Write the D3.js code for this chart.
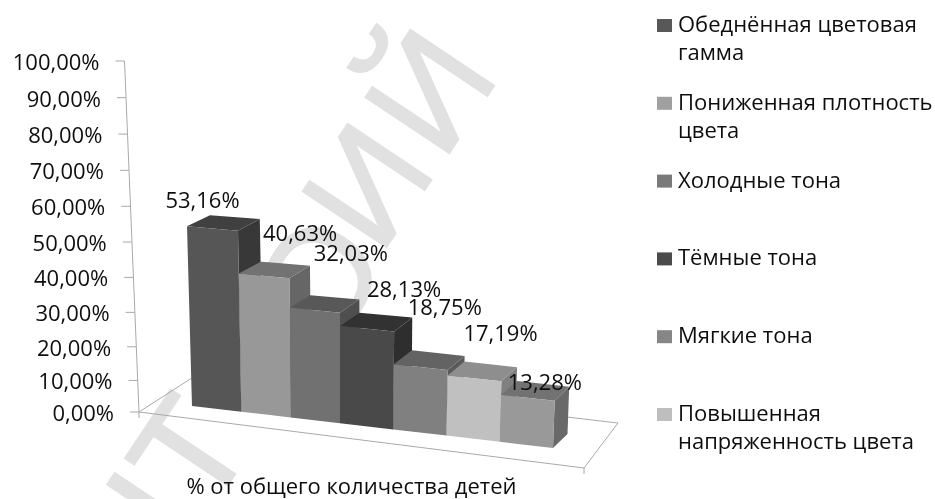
<!DOCTYPE html>
<html>
<head>
<meta charset="utf-8">
<script src="https://cdn.jsdelivr.net/npm/d3@7"></script>
<style>
  html, body { margin: 0; padding: 0; background: #fff; }
  text { font-family: "Open Sans", "Noto Sans", sans-serif; fill: #111; }
</style>
</head>
<body>
<svg id="chart" width="935" height="499"></svg>
<script>
// data
var values = [53.16, 40.63, 32.03, 28.13, 18.75, 17.19, 13.28];
var valueLabels = ["53,16%", "40,63%", "32,03%", "28,13%", "18,75%", "17,19%", "13,28%"];
var axisTicks = [0, 10, 20, 30, 40, 50, 60, 70, 80, 90, 100];
var axisTickLabels = ["0,00%", "10,00%", "20,00%", "30,00%", "40,00%", "50,00%", "60,00%", "70,00%", "80,00%", "90,00%", "100,00%"];
var legendNames = [
  ["Обеднённая цветовая", "гамма"],
  ["Пониженная плотность", "цвета"],
  ["Холодные тона"],
  ["Тёмные тона"],
  ["Мягкие тона"],
  ["Повышенная", "напряженность цвета"]
];
var axisTitle = "% от общего количества детей";
var watermarkLetters = ["Й", "И", "О", "Т", "Н"];

// colours of each bar: front, top, side
var frontColors = ["#565656", "#989898", "#717171", "#484848", "#808080", "#c0c0c0", "#999999"];
var topColors = ["#3f3f3f", "#727272", "#585858", "#333333", "#636363", "#8e8e8e", "#727272"];
var sideColors = ["#383838", "#666666", "#505050", "#2e2e2e", "#5a5a5a", "#808080", "#696969"];
var legendColors = ["#595959", "#a0a0a0", "#7a7a7a", "#4b4b4b", "#868686", "#bebebe"];

var svg = d3.select("#chart");

var defs = svg.append("defs");
defs.append("filter").attr("id", "soft")
  .attr("x", "-5%").attr("y", "-5%").attr("width", "110%").attr("height", "110%")
  .append("feGaussianBlur").attr("stdDeviation", 0.4);

var root = svg.append("g").attr("filter", "url(#soft)");

// watermark goes under everything, letters spaced along its slanted baseline
var watermarkAlong = [33, 146, 252, 466, 566];
var watermarkLift = [0, 0, -12, 0, 0];

root.selectAll(".watermark")
  .data(watermarkLetters)
  .enter()
  .append("text")
  .attr("class", "watermark")
  .attr("transform", function(d, i) {
    var s = watermarkAlong[i], p = watermarkLift[i];
    return "translate(" + (490 - 0.555 * s + 0.832 * p * -1) + "," + (92 + 0.832 * s + 0.555 * p * -1) + ") rotate(-56.3)";
  })
  .attr("text-anchor", "middle")
  .style("font-family", "'Liberation Sans'")
  .style("font-size", "146px")
  .style("fill", "#e1e1e1")
  .style("stroke", "#e1e1e1")
  .style("stroke-width", 2)
  .text(function(d) { return d; });

// the 3D look: a bar slot u, a value v and a depth w give a point on the page
var xGround = d3.scaleLinear().domain([0, 3, 7]).range([192, 340, 553]);
var yGround = d3.scaleLinear().domain([192, 553]).range([406, 448]);
var height = d3.scaleLinear().domain([0, 100]).range([0, 338]);
var growth = d3.scaleLinear().domain([0, 7]).range([1, 1.05]);
var lean = d3.scaleLinear().domain([0, 3, 7]).range([-0.094, 0, 0.126]);
var depthX = d3.scaleLinear().domain([0, 7]).range([23, 14.5]);
var depthY = d3.scaleLinear().domain([0, 4]).range([-11, -14]).clamp(true);

function project(u, v, w) {
  var x0 = xGround(u);
  return [
    x0 + v * lean(u) + w * depthX(u),
    yGround(x0) - height(v) * growth(u) + w * depthY(u)
  ];
}

// value axis, slightly bent because of the perspective
var axisY = d3.scalePow().exponent(1.046).domain([0, 100]).range([412, 61]);
var axisX = d3.scaleLinear().domain([0, 100]).range([139, 124.5]);

var lineColor = "#a9a9a9";

// floor of the chart
var floor = [[139, 412], [584, 468], [618, 423], [198, 374]];
root.append("path")
  .attr("d", d3.line()(floor) + "Z")
  .attr("fill", "none")
  .attr("stroke", lineColor);
root.selectAll(".floorTick")
  .data([floor[0], floor[1]])
  .enter()
  .append("line")
  .attr("class", "floorTick")
  .attr("x1", function(d) { return d[0]; })
  .attr("x2", function(d) { return d[0]; })
  .attr("y1", function(d) { return d[1]; })
  .attr("y2", function(d) { return d[1] + 6; })
  .attr("stroke", lineColor);

root.append("line")
  .attr("x1", axisX(0)).attr("y1", axisY(0))
  .attr("x2", axisX(100)).attr("y2", axisY(100))
  .attr("stroke", lineColor);

var tick = root.selectAll(".tick")
  .data(axisTicks)
  .enter()
  .append("g")
  .attr("class", "tick");

tick.append("line")
  .attr("x1", function(d) { return axisX(d) - 9; })
  .attr("x2", function(d) { return axisX(d); })
  .attr("y1", function(d) { return axisY(d); })
  .attr("y2", function(d) { return axisY(d); })
  .attr("stroke", lineColor);

tick.append("text")
  .attr("x", function(d) { return axisX(d) - 25; })
  .attr("y", function(d) { return axisY(d) + 9; })
  .attr("text-anchor", "end")
  .style("font-size", "22px")
  .text(function(d, i) { return axisTickLabels[i]; });

// bars, left to right so each one covers the side of the one before
var face = d3.line();
var bar = root.selectAll(".bar")
  .data(values)
  .enter()
  .append("g")
  .attr("class", "bar");

bar.append("path")
  .attr("fill", function(d, i) { return sideColors[i]; })
  .attr("d", function(d, i) {
    return face([project(i + 1, 0, 0), project(i + 1, 0, 1), project(i + 1, d, 1), project(i + 1, d, 0)]) + "Z";
  });

bar.append("path")
  .attr("fill", function(d, i) { return topColors[i]; })
  .attr("d", function(d, i) {
    return face([project(i, d, 0), project(i, d, 1), project(i + 1, d, 1), project(i + 1, d, 0)]) + "Z";
  });

bar.append("path")
  .attr("fill", function(d, i) { return frontColors[i]; })
  .attr("d", function(d, i) {
    return face([project(i, 0, 0), project(i + 1, 0, 0), project(i + 1, d, 0), project(i, d, 0)]) + "Z";
  });

// labels were dragged by hand in the original, so each has its own nudge
var labelNudgeX = [-10, 36, 36, 37, 24, 26, 17];
var labelNudgeY = [-21, -35, -49, -32, -52, -37, -8];

root.selectAll(".valueLabel")
  .data(values)
  .enter()
  .append("text")
  .attr("class", "valueLabel")
  .attr("text-anchor", "middle")
  .attr("x", function(d, i) { return project(i + 0.5, d, 0)[0] + labelNudgeX[i]; })
  .attr("y", function(d, i) { return project(i + 0.5, d, 0)[1] + labelNudgeY[i]; })
  .style("font-size", "22px")
  .text(function(d, i) { return valueLabels[i]; });

root.append("text")
  .attr("x", 351.5)
  .attr("y", 494)
  .attr("text-anchor", "middle")
  .style("font-size", "22px")
  .text(axisTitle);

// legend
var legendY = d3.scaleLinear().domain([0, 5]).range([32, 421]);

var legend = root.selectAll(".legend")
  .data(legendNames)
  .enter()
  .append("g")
  .attr("class", "legend")
  .attr("transform", function(d, i) { return "translate(657," + legendY(i) + ")"; });

legend.append("rect")
  .attr("x", 0)
  .attr("y", -13)
  .attr("width", 15)
  .attr("height", 13)
  .attr("fill", function(d, i) { return legendColors[i]; });

legend.selectAll("text")
  .data(function(d) { return d; })
  .enter()
  .append("text")
  .attr("x", 21)
  .attr("y", function(d, i) { return i * 28; })
  .style("font-size", "22px")
  .text(function(d) { return d; });
</script>
</body>
</html>
